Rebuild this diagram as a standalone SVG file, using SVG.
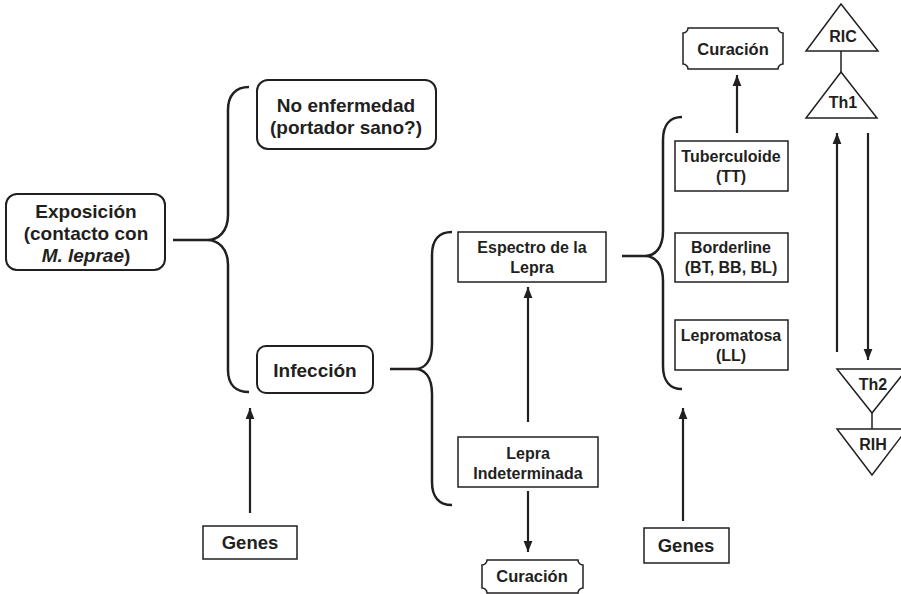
<svg xmlns="http://www.w3.org/2000/svg" width="901" height="594" viewBox="0 0 901 594">
<style>
text{font-family:"Liberation Sans",Arial,sans-serif;font-weight:bold;fill:#231f20;text-anchor:middle}
.rb{fill:#fff;stroke:#231f20;stroke-width:2}
.sb{fill:#fff;stroke:#231f20;stroke-width:1.5}
.br{fill:none;stroke:#231f20;stroke-width:2.5}
.ln{fill:none;stroke:#231f20;stroke-width:2.2}
.tri{fill:#fff;stroke:#231f20;stroke-width:1.5}
.t19{font-size:19px}
.t16{font-size:16px}
.tc{font-size:16.5px}
.tg{font-size:18.5px}
</style>
<defs>
<marker id="ah" viewBox="0 0 10 10" refX="10" refY="5" markerWidth="5" markerHeight="5" markerUnits="strokeWidth" orient="auto">
<path d="M0,1 L10,5 L0,9 Z" fill="#231f20"/>
</marker>
</defs>
<g id="connectors">
<path class="br" d="M173,240 H207 M249,87 C236,87 228,95 228,110 L228,215 C228,232 218,240 207,240 C218,240 228,248 228,265 L228,370 C228,385 236,392 249,392"/>
<path class="br" d="M390,369 H415 M452,232 C439,232 432,240 432,255 L432,344 C432,361 425,369 415,369 C425,369 432,377 432,394 L432,482 C432,497 439,505 452,505"/>
<path class="br" d="M622,256 H645 M682,117 C670,117 663,125 663,140 L663,231 C663,248 655,256 645,256 C655,256 663,264 663,281 L663,366 C663,381 670,389 682,389"/>
<line class="ln" x1="528" y1="422" x2="528" y2="287" marker-end="url(#ah)"/>
<line class="ln" x1="528" y1="491" x2="528" y2="552" marker-end="url(#ah)"/>
<line class="ln" x1="737" y1="133" x2="737" y2="75" marker-end="url(#ah)"/>
<line class="ln" x1="250" y1="513" x2="250" y2="408" marker-end="url(#ah)"/>
<line class="ln" x1="683" y1="521" x2="683" y2="408" marker-end="url(#ah)"/>
<line class="ln" x1="837" y1="352" x2="837" y2="133" marker-end="url(#ah)"/>
<line class="ln" x1="868" y1="133" x2="868" y2="360" marker-end="url(#ah)"/>
<line class="ln" x1="841" y1="51" x2="841" y2="72" style="stroke-width:1.5"/>
<line class="ln" x1="872" y1="413" x2="872" y2="429" style="stroke-width:1.5"/>
</g>
<g id="exposicion">
<rect class="rb" x="6" y="194" width="159" height="76" rx="11"/>
<text class="t19" x="86" y="218">Exposición</text>
<text class="t19" x="86" y="240">(contacto con</text>
<text class="t19" x="86" y="262"><tspan font-style="italic">M. leprae</tspan>)</text>
</g>
<g id="no-enfermedad">
<rect class="rb" x="257" y="80" width="179" height="69" rx="11"/>
<text class="t19" x="346" y="112">No enfermedad</text>
<text class="t19" x="346" y="134">(portador sano?)</text>
</g>
<g id="infeccion">
<rect class="rb" x="257" y="346" width="116" height="47" rx="9"/>
<text class="t19" x="315" y="377">Infección</text>
</g>
<g id="espectro">
<rect class="sb" x="458" y="232" width="148" height="50"/>
<text class="t16" x="532" y="253">Espectro de la</text>
<text class="t16" x="532" y="273">Lepra</text>
</g>
<g id="indeterminada">
<rect class="sb" x="458" y="437" width="140" height="50"/>
<text class="t16" x="528" y="459">Lepra</text>
<text class="t16" x="528" y="479">Indeterminada</text>
</g>
<g id="curacion-bottom">
<path class="sb" d="M487,560 H578 A5,5 0 0 0 583,565 V588 A5,5 0 0 0 578,593 H487 A5,5 0 0 0 482,588 V565 A5,5 0 0 0 487,560 Z"/>
<text class="tc" x="532" y="582">Curación</text>
</g>
<g id="tuberculoide">
<rect class="sb" x="675" y="141" width="113" height="50"/>
<text class="t16" x="731" y="162">Tuberculoide</text>
<text class="t16" x="731" y="182">(TT)</text>
</g>
<g id="borderline">
<rect class="sb" x="675" y="233" width="113" height="49"/>
<text class="t16" x="731" y="253">Borderline</text>
<text class="t16" x="731" y="273">(BT, BB, BL)</text>
</g>
<g id="lepromatosa">
<rect class="sb" x="675" y="320" width="113" height="50"/>
<text class="t16" x="731" y="341">Lepromatosa</text>
<text class="t16" x="731" y="361">(LL)</text>
</g>
<g id="curacion-top">
<path class="sb" d="M688,28 H778 A5,5 0 0 0 783,33 V64 A5,5 0 0 0 778,69 H688 A5,5 0 0 0 683,64 V33 A5,5 0 0 0 688,28 Z"/>
<text class="tc" x="733" y="55">Curación</text>
</g>
<g id="ric">
<path class="tri" d="M841,4 L878,51 L806,51 Z"/>
<text class="t16" x="843" y="42">RIC</text>
</g>
<g id="th1">
<path class="tri" d="M841,72 L877,118 L806,118 Z"/>
<text class="t16" x="843" y="108">Th1</text>
</g>
<g id="th2">
<path class="tri" d="M837,369 L907,369 L872,413 Z"/>
<text class="t16" x="873" y="390">Th2</text>
</g>
<g id="rih">
<path class="tri" d="M837,429 L907,429 L872,475 Z"/>
<text class="t16" x="873" y="450">RIH</text>
</g>
<g id="genes-left">
<rect class="sb" x="203" y="526" width="94" height="33"/>
<text class="tg" x="250" y="549">Genes</text>
</g>
<g id="genes-right">
<rect class="sb" x="644" y="528" width="85" height="35"/>
<text class="tg" x="686" y="552">Genes</text>
</g>
</svg>
